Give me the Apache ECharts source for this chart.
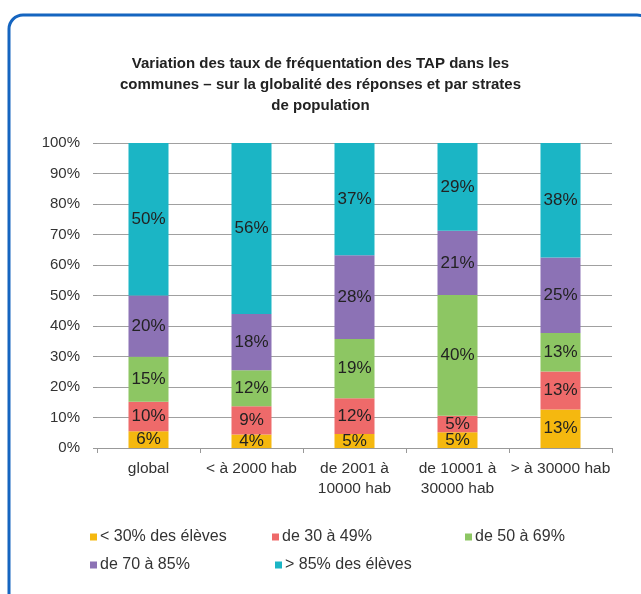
<!DOCTYPE html>
<html>
<head>
<meta charset="utf-8">
<script src="https://cdn.jsdelivr.net/npm/echarts@6/dist/echarts.min.js"></script>
<style>html,body{margin:0;padding:0;background:#fff}#c{width:641px;height:594px}</style>
</head>
<body>
<div id="c"></div>
<script>
const titleText = "Variation des taux de fréquentation des TAP dans les\ncommunes – sur la globalité des réponses et par strates\nde population";
const categories = ["global", "< à 2000 hab", "de 2001 à\n10000 hab", "de 10001 à\n30000 hab", "> à 30000 hab"];
const seriesNames = ["< 30% des élèves", "de 30 à 49%", "de 50 à 69%", "de 70 à 85%", "> 85% des élèves"];
const lt30 = [5.5, 4.4, 4.6, 5.2, 12.6];
const s30to49 = [9.7, 9.3, 11.7, 5.4, 12.5];
const s50to69 = [14.7, 11.8, 19.4, 39.6, 12.6];
const s70to85 = [20.1, 18.4, 27.5, 21.0, 24.8];
const gt85 = [50.0, 56.1, 36.8, 28.8, 37.5];
const yTicks = [0, 10, 20, 30, 40, 50, 60, 70, 80, 90, 100];
const colors = ["#F5B80F", "#EE6A6A", "#8DC663", "#8C72B5", "#1BB5C5"];
const values = [lt30, s30to49, s50to69, s70to85, gt85];

const FONT = "Liberation Sans";
const chart = echarts.init(document.getElementById('c'), null, {renderer: 'canvas'});

const legendPos = [[90, 529], [272, 529], [465, 529], [90, 557], [275, 557]];
const legends = seriesNames.map((n, i) => ({
  data: [n], left: legendPos[i][0], top: legendPos[i][1], padding: 0,
  itemWidth: 7, itemHeight: 7, icon: 'rect', itemGap: 0,
  textStyle: {fontFamily: FONT, fontSize: 16, color: '#333', padding: [0, 0, 0, -2]},
  selectedMode: false
}));

chart.setOption({
  animation: false,
  backgroundColor: '#fff',
  graphic: [{
    type: 'rect', shape: {x: 9, y: 15, width: 642, height: 592, r: 14},
    style: {fill: 'none', stroke: '#1565C0', lineWidth: 3}, z: 100
  }],
  title: {
    text: titleText, left: 'center', top: 48,
    textStyle: {fontFamily: FONT, fontSize: 15, fontWeight: 'bold', color: '#222', lineHeight: 21}
  },
  legend: legends,
  grid: {left: 97, right: 29, top: 143, bottom: 146},
  xAxis: {
    type: 'category', data: categories,
    axisLine: {lineStyle: {color: '#999', width: 1}},
    axisTick: {show: true, interval: 0, length: 5, lineStyle: {color: '#999'}},
    axisLabel: {interval: 0, fontFamily: FONT, fontSize: 15.5, color: '#333', margin: 11, lineHeight: 20}
  },
  yAxis: {
    type: 'value', min: 0, max: 100, interval: 10,
    axisLine: {show: false},
    axisTick: {show: true, length: 4, lineStyle: {color: '#999'}},
    splitLine: {lineStyle: {color: '#a0a0a0', width: 1.2}},
    axisLabel: {fontFamily: FONT, fontSize: 15, color: '#333', margin: 17,
      formatter: v => yTicks.includes(v) ? v + '%' : ''}
  },
  series: values.map((arr, i) => ({
    name: seriesNames[i], type: 'bar', stack: 'total', data: arr,
    barWidth: 40,
    itemStyle: {color: colors[i]},
    label: {show: true, position: 'inside', fontFamily: FONT, fontSize: 17, color: '#222',
      formatter: p => Math.round(p.value) + '%'}
  }))
});
</script>
</body>
</html>
